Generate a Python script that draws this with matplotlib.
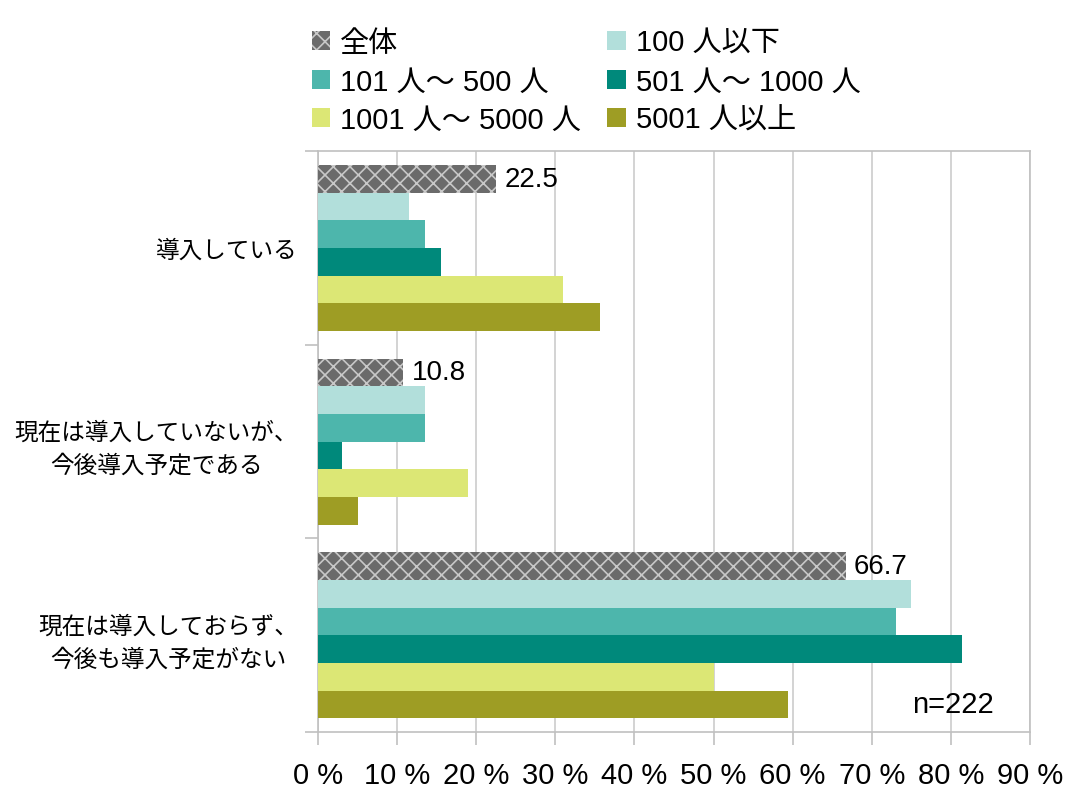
import matplotlib
matplotlib.use("Agg")
import matplotlib.pyplot as plt
import numpy as np

plt.rcParams['font.family'] = ['Liberation Sans', 'Noto Sans CJK JP', 'DejaVu Sans']
plt.rcParams['hatch.linewidth'] = 1.2

categories = ["導入している", "現在は導入していないが、\n今後導入予定である", "現在は導入しておらず、\n今後も導入予定がない"]
series_names = ["全体", "100 人以下", "101 人〜 500 人", "501 人〜 1000 人", "1001 人〜 5000 人", "5001 人以上"]
values = {
    "全体": [22.5, 10.8, 66.7],
    "100 人以下": [11.5, 13.5, 75.0],
    "101 人〜 500 人": [13.5, 13.5, 73.0],
    "501 人〜 1000 人": [15.6, 3.0, 81.4],
    "1001 人〜 5000 人": [31.0, 19.0, 50.0],
    "5001 人以上": [35.6, 5.1, 59.4],
}
colors = ["#6b6b6b", "#b2dfdb", "#4db6ac", "#00897b", "#dce775", "#9e9d24"]
xticks = [0, 10, 20, 30, 40, 50, 60, 70, 80, 90]
xticklabels = [f"{t} %" for t in xticks]
note = "n=222"

fig = plt.figure(figsize=(10.81, 8.12), dpi=100)
ax = fig.add_axes([318/1081, 1-733/812, (1030-318)/1081, (733-152)/812])

n = len(series_names)
h = 1/7
y = np.arange(len(categories))
handles = []
for i, name in enumerate(series_names):
    pos = y - 3*h + h/2 + i*h
    if i == 0:
        b = ax.barh(pos, values[name], height=h, color=colors[i], edgecolor="#c8c8c8",
                    linewidth=0, hatch="xx", label=name, zorder=3)
        for p, v in zip(pos, values[name]):
            ax.annotate(f"{v}", xy=(v, p), xytext=(6, 0), textcoords="offset points",
                        ha="left", va="center", fontsize=20, zorder=4)
    else:
        b = ax.barh(pos, values[name], height=h, color=colors[i], linewidth=0,
                    label=name, zorder=3)
    handles.append(b)

ax.set_xlim(0, 90)
ax.set_ylim(2.5, -0.5)
ax.set_xticks(xticks)
ax.set_xticklabels(xticklabels, fontsize=21)
ax.tick_params(axis="x", length=9, width=1.2, color="#c0c0c0", pad=12)
ax.set_yticks([-0.5, 0.5, 1.5, 2.5])
ax.set_yticklabels([])
ax.set_yticks(y, minor=True)
ax.set_yticklabels(categories, minor=True, fontsize=17, multialignment="center",
                   linespacing=1.55)
ax.tick_params(axis="y", which="major", length=9.5, width=1.2, color="#c0c0c0")
ax.tick_params(axis="y", which="minor", length=0, pad=20*0.72)
ax.grid(axis="x", color="#c8c8c8", linewidth=1.1, zorder=0)
for s in ax.spines.values():
    s.set_color("#c0c0c0")
    s.set_linewidth(1.2)

ax.text((912-318)/712, (733-705)/581, note, transform=ax.transAxes, ha="left",
        va="center", fontsize=21)

order = [0, 2, 4, 1, 3, 5]
fig.legend([handles[k] for k in order], [series_names[k] for k in order],
           ncol=2, loc="upper left", bbox_to_anchor=(312/1081, 1-30/812),
           frameon=False, fontsize=21, handlelength=0.62, handleheight=0.62,
           handletextpad=0.35, columnspacing=0.9, labelspacing=0.36, borderpad=0,
           borderaxespad=0)

fig.savefig("out.png", dpi=100)
